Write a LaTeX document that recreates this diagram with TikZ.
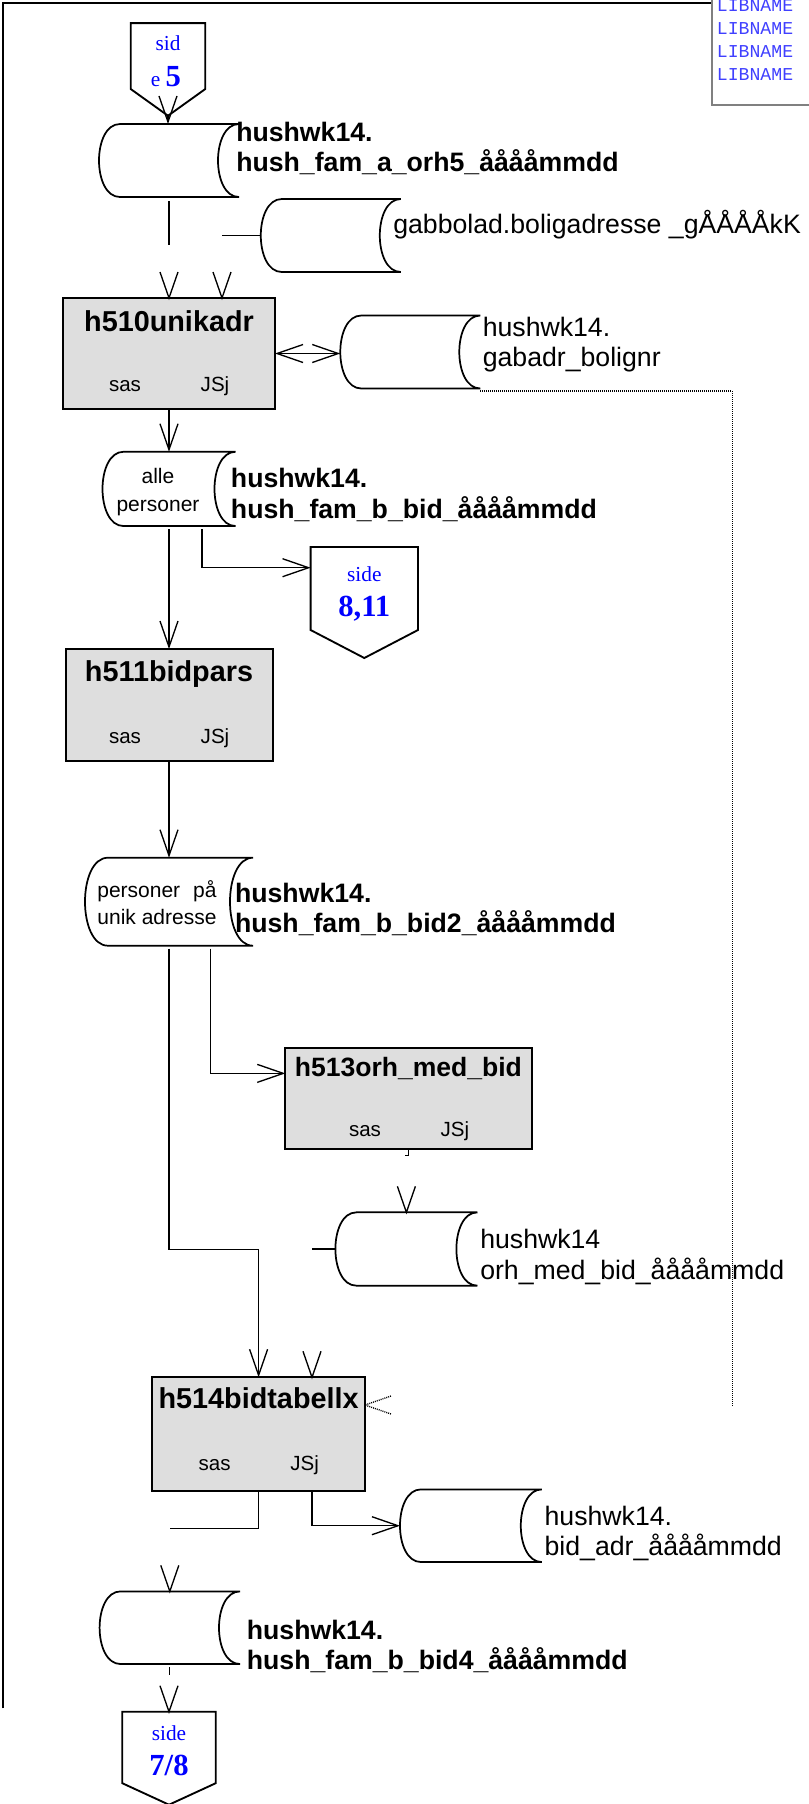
\documentclass[tikz,border=0pt]{standalone}
\usepackage{fontspec}
\setmainfont{Liberation Sans}
\newfontfamily\pgserif{Liberation Serif}
\newfontfamily\libmono{Liberation Mono}
\usetikzlibrary{arrows.meta,calc}
\definecolor{procgray}{RGB}{222,222,222}
\definecolor{libblue}{RGB}{64,64,255}
\definecolor{libframe}{RGB}{128,128,128}

% stored-data outline round a node (#1 = depth of the curves)
\newcommand{\dsoutline}[2][21]{%
  \draw[dsline] ($(#2.north west)+(#1,0)$) -- (#2.north east)
    .. controls +({-4/3*#1},0) and +({-4/3*#1},0) .. (#2.south east)
    -- ($(#2.south west)+(#1,0)$)
    .. controls +({-4/3*#1},0) and +({-4/3*#1},0) .. ($(#2.north west)+(#1,0)$) -- cycle;}
% off-page connector round a node (#2 = height of the point)
\newcommand{\pgoutline}[2]{%
  \draw[pgline] (#1.north west) -- (#1.north east) -- ($(#1.south east)+(0,#2)$)
    -- (#1.south) -- ($(#1.south west)+(0,#2)$) -- cycle;}

\begin{document}
\begin{tikzpicture}[x=0.75pt, y=0.75pt,
    >={Straight Barb[length=19.5pt,width=13.5pt]},
    conn/.style={line width=1pt},
    dots/.style={line width=1pt, dash pattern=on 0.75pt off 0.75pt},
    frame/.style={line width=1.6pt},
    proc/.style={draw, line width=1.5pt, fill=procgray, inner sep=0pt, outer sep=0pt},
    store/.style={inner sep=0pt, outer sep=0pt},
    dsline/.style={line width=1.3pt},
    pgnode/.style={inner sep=0pt, outer sep=0pt},
    pgline/.style={line width=1.4pt},
    ttl/.style={anchor=base, inner sep=0pt, font=\bfseries\fontsize{21.6}{24}\selectfont},
    sml/.style={anchor=base, inner sep=0pt, font=\fontsize{15.4}{18}\selectfont},
    lbl/.style={anchor=north west, align=left, inner sep=0pt, font=\fontsize{20}{22.75}\selectfont},
    blbl/.style={lbl, font=\bfseries\fontsize{20}{22.75}\selectfont},
    intxt/.style={anchor=north, align=center, inner sep=0pt, font=\fontsize{15.75}{20.5}\selectfont},
    pgsm/.style={anchor=base, inner sep=0pt, text=blue, font=\pgserif\fontsize{16}{19}\selectfont},
    pgbig/.style={anchor=base, inner sep=0pt, text=blue, font=\pgserif\bfseries\fontsize{23}{26}\selectfont},
    vee/.pic={\draw[conn, pic actions] (-9,26) -- (0,0) -- (9,26);}
  ]
  \useasboundingbox (0,0) rectangle (809,-1804);

  % frame and library list
  \draw[frame] (3.2,-1708.3) |- (712,-2.8);
  \draw[libframe, line width=1pt] (712,0) |- (809,-105);
  \foreach \k in {0,...,3}
    \node[anchor=base west, inner sep=0pt, text=libblue, font=\libmono\fontsize{13.6}{17}\selectfont]
      (lib\k) at (716.7,{-11.7-22.8*\k}) {LIBNAME};

  % page connectors
  \node[pgnode, minimum width=55.9pt, minimum height=69.5pt] (p5) at (168,-69.4) {};
  \node[pgnode, minimum width=80.55pt, minimum height=83.25pt] (p811) at (364.3,-602.5) {};
  \node[pgnode, minimum width=70.05pt, minimum height=69.75pt] (p78) at (169,-1758.2) {};
  \pgoutline{p5}{26.7}
  \pgoutline{p811}{28}
  \pgoutline{p78}{21.5}
  \node[pgsm] (p5a) at (168,-50) {sid};
  \node[pgsm] (p5b) at (166,-86.7) {e {\bfseries\fontsize{23}{26}\selectfont 5}};
  \node[pgsm] (p811a) at (364.3,-581.7) {side};
  \node[pgbig] (p811b) at (364.3,-616.7) {8,11};
  \node[pgsm] (p78a) at (169,-1740) {side};
  \node[pgbig] (p78b) at (169,-1775.5) {7/8};

  % data stores
  \node[store, minimum width=105pt, minimum height=54.75pt] (ds1) at (169,-160.5) {};
  \node[store, minimum width=105pt, minimum height=54.75pt] (ds2) at (330.8,-235.5) {};
  \node[store, minimum width=105pt, minimum height=54.75pt] (ds3) at (410.3,-352) {};
  \node[store, minimum width=99.75pt, minimum height=55.7pt] (ds4) at (169,-488.9) {};
  \node[store, minimum width=126pt, minimum height=66pt] (ds5) at (169,-901.7) {};
  \node[store, minimum width=106.5pt, minimum height=55pt] (ds6) at (406.4,-1249) {};
  \node[store, minimum width=106.35pt, minimum height=54.5pt] (ds8) at (470.9,-1525.7) {};
  \node[store, minimum width=105.3pt, minimum height=54.5pt] (ds7) at (169.8,-1627.7) {};
  \dsoutline{ds1}
  \dsoutline{ds2}
  \dsoutline{ds3}
  \dsoutline{ds4}
  \dsoutline[23]{ds5}
  \dsoutline{ds6}
  \dsoutline{ds8}
  \dsoutline{ds7}
  \node[intxt] (ds4t) at (158,-468.3) {alle\\personer};
  \node[intxt, font=\fontsize{15.75}{20}\selectfont] (ds5t) at (157,-880.7) {personer\hspace{0.62em}på\\unik adresse};

  % store labels
  \node[blbl] (ds1l) at (236,-121.5) {hushwk14.\\hush\_fam\_a\_orh5\_ååååmmdd};
  \node[lbl, anchor=base west] (ds2l) at (393,-233) {gabbolad.boligadresse \_gÅÅÅÅkK};
  \node[lbl] (ds3l) at (482.5,-316.8) {hushwk14.\\gabadr\_bolignr};
  \node[blbl] (ds4l) at (230.7,-468.1) {hushwk14.\\hush\_fam\_b\_bid\_ååååmmdd};
  \node[blbl] (ds5l) at (234.8,-882.5) {hushwk14.\\hush\_fam\_b\_bid2\_ååååmmdd};
  \node[lbl] (ds6l) at (480,-1229.1) {hushwk14\\orh\_med\_bid\_ååååmmdd};
  \node[lbl] (ds8l) at (544.4,-1505.8) {hushwk14.\\bid\_adr\_ååååmmdd};
  \node[blbl] (ds7l) at (246.6,-1619.8) {hushwk14.\\hush\_fam\_b\_bid4\_ååååmmdd};

  % programs
  \node[proc, minimum width=159pt, minimum height=83.25pt] (h510) at (169,-353.5) {};
  \node[ttl] (h510t) at ($(h510.north)+(0,-33.7)$) {h510unikadr};
  \node[sml] (h510a) at ($(h510.south)+(-44,17.3)$) {sas};
  \node[sml] (h510b) at ($(h510.south)+(46,17.3)$) {JSj};

  \node[proc, minimum width=155.25pt, minimum height=83.8pt] (h511) at (169,-704.9) {};
  \node[ttl] (h511t) at ($(h511.north)+(0,-32.7)$) {h511bidpars};
  \node[sml] (h511a) at ($(h511.south)+(-44,17.4)$) {sas};
  \node[sml] (h511b) at ($(h511.south)+(46,17.4)$) {JSj};

  \node[proc, minimum width=184.65pt, minimum height=75.5pt] (h513) at (408.4,-1098.7) {};
  \node[ttl, font=\bfseries\fontsize{19.9}{22}\selectfont] (h513t) at ($(h513.north)+(0,-28.4)$) {h513orh\_med\_bid};
  \node[sml] (h513a) at ($(h513.south)+(-43.4,12.3)$) {sas};
  \node[sml] (h513b) at ($(h513.south)+(46.4,12.3)$) {JSj};

  \node[proc, minimum width=159.6pt, minimum height=85.05pt] (h514) at (258.6,-1434) {};
  \node[ttl] (h514t) at ($(h514.north)+(0,-31)$) {h514bidtabellx};
  \node[sml] (h514a) at ($(h514.south)+(-44,20.7)$) {sas};
  \node[sml] (h514b) at ($(h514.south)+(46,20.7)$) {JSj};

  % connectors
  \draw[conn,->] (p5.south) -- (p5.south |- ds1.north);
  \draw[conn] ($(ds1.south)+(0,-4)$) -- ++(0,-44);
  \draw[conn] (ds2.west) -- ++(-38.6,0);
  \pic at (h510.north) {vee};
  \pic at ($(h510.north)+(53,0)$) {vee};
  \draw[conn,<->] (h510.east) -- (h510.east -| ds3.west);
  \draw[dots] ($(ds3.south east)+(0,-2.5)$) -- ++(252,0) -- ++(0,-1014.5);
  \pic[rotate=-90, dots] at ($(h514.north east)+(0,-27.7)$) {vee};
  \draw[conn,->] (h510.south) -- (ds4.north);
  \draw[conn,->] ($(ds4.south)+(0,-3)$) -- (h511.north);
  \draw[conn,->] ($(ds4.south)+(33,-3)$) |- ($(p811.north west)+(0,-20.7)$);
  \draw[conn,->] (h511.south) -- (ds5.north);
  \draw[conn,->] ($(ds5.south)+(41.5,-3)$) |- ($(h513.north west)+(0,-25)$);
  \draw[conn,->] ($(ds5.south)+(0,-3)$) |- ($(h514.north)+(0,128)$) -- (h514.north);
  \draw[conn] (h513.south) -- ++(0,-6.5) -- ++(-3,0);
  \pic at (ds6.north) {vee};
  \draw[conn] (ds6.west) -- ++(-23.4,0);
  \pic at ($(h514.north)+(53.4,0)$) {vee};
  \draw[conn] (h514.south) -- ++(0,-37.6) -- ++(-88.3,0);
  \draw[conn,->] ($(h514.south)+(53.4,0)$) |- (ds8.west);
  \pic at (ds7.north) {vee};
  \draw[conn] ($(ds7.south)+(0,-2.7)$) -- ++(0,-8.3);
  \pic at (p78.north) {vee};
\end{tikzpicture}
\end{document}
